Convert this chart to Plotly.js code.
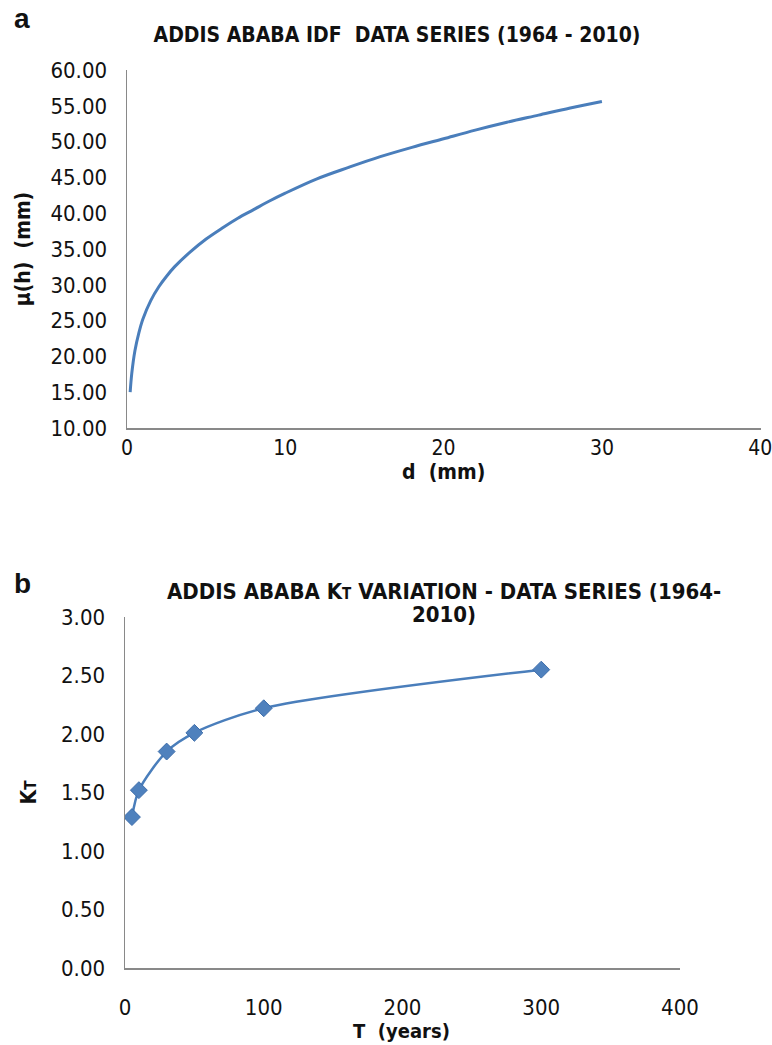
<!DOCTYPE html>
<html>
<head>
<meta charset="utf-8">
<script src="https://cdn.plot.ly/plotly-3.0.1.min.js"></script>
<style>html,body{margin:0;padding:0;background:#fff;}#chart{width:772px;height:1045px;}</style>
</head>
<body>
<div id="chart"></div>
<script>
// Panel a: IDF data series
const depth_d = [0.2, 0.3, 0.5, 0.75, 1, 1.5, 2, 2.5, 3, 4, 5, 6, 7, 8, 9, 10, 12, 14, 16, 18, 20, 22, 24, 26, 28, 30];
const mu_h = [15.0, 17.6, 20.8, 23.3, 25.2, 27.8, 29.7, 31.2, 32.5, 34.6, 36.4, 37.9, 39.3, 40.5, 41.7, 42.8, 44.8, 46.4, 47.9, 49.2, 50.4, 51.6, 52.7, 53.7, 54.7, 55.6];
// Panel b: KT variation
const return_T = [5, 10, 30, 50, 100, 300];
const kt_values = [1.29, 1.52, 1.85, 2.01, 2.22, 2.55];

const xTicksA = [0, 10, 20, 30, 40];
const yTicksA = [10, 15, 20, 25, 30, 35, 40, 45, 50, 55, 60];
const xTicksB = [0, 100, 200, 300, 400];
const yTicksB = [0, 0.5, 1, 1.5, 2, 2.5, 3];

const FONT = "'Liberation Sans Narrow', 'Arial Narrow', 'DejaVu Sans Condensed', Lato, sans-serif";
const AX = '#898989';
const BLUE = '#4A7EBB';

const traces = [
  {x: depth_d, y: mu_h, xaxis: 'x', yaxis: 'y', type: 'scatter', mode: 'lines',
   line: {color: BLUE, width: 3, shape: 'spline', smoothing: 1}, hoverinfo: 'x+y'},
  {x: return_T, y: kt_values, xaxis: 'x2', yaxis: 'y2', type: 'scatter', mode: 'lines+markers',
   line: {color: BLUE, width: 2.5, shape: 'spline', smoothing: 0.8},
   marker: {symbol: 'diamond', size: 13, color: '#4F81BD', line: {color: '#3D6DAA', width: 1}}}
];

function axisCommon(extra) {
  return Object.assign({
    showline: true, linecolor: AX, linewidth: 1.5, showgrid: false, zeroline: false,
    ticks: '', tickfont: {family: FONT, size: 22, color: '#111'}, tickmode: 'array', fixedrange: true,
    ticklabeloverflow: 'allow'
  }, extra);
}

const layout = {
  width: 772, height: 1045,
  margin: {l: 0, r: 0, t: 0, b: 0},
  paper_bgcolor: '#fff', plot_bgcolor: '#fff',
  showlegend: false,
  title: {text: 'ADDIS ABABA IDF  DATA SERIES (1964 - 2010)', font: {family: FONT, size: 21, color: '#111', weight: 'bold'},
          x: 397/772, xanchor: 'center', y: 1 - 35/1045, yanchor: 'middle'},
  xaxis: axisCommon({domain: [127/772, 761/772], range: [0, 40.05], tickvals: xTicksA, ticktext: xTicksA.map(String),
    anchor: 'y', ticklabelstandoff: 0, tickfont: {family: FONT, size: 21, color: '#111'}}),
  yaxis: axisCommon({domain: [1 - 428/1045, 1 - 70/1045], range: [10, 60], tickvals: yTicksA, ticktext: yTicksA.map(v => v.toFixed(2)),
    anchor: 'x', ticklabelstandoff: 14,
    title: {text: '<b>μ(h)  (mm)</b>', font: {family: FONT, size: 21, color: '#111'}, standoff: 14}}),
  xaxis2: axisCommon({domain: [125/772, 680/772], range: [0, 400], tickvals: xTicksB, ticktext: xTicksB.map(String),
    anchor: 'y2', ticklabelstandoff: 19}),
  yaxis2: axisCommon({domain: [1 - 968/1045, 1 - 617/1045], range: [0, 3], tickvals: yTicksB, ticktext: yTicksB.map(v => v.toFixed(2)),
    anchor: 'x2', ticklabelstandoff: 14,
    title: {text: '<b>K<span style="font-size:15px">T</span></b>', font: {family: FONT, size: 21, color: '#111'}, standoff: 18}}),
  annotations: [
    {text: '<b>a</b>', xref: 'paper', yref: 'paper', x: 12/772, y: 1 - 18/1045, xanchor: 'left', yanchor: 'middle',
     showarrow: false, font: {family: 'Liberation Sans, Arial, sans-serif', size: 28, color: '#111'}},
    {text: '<b>b</b>', xref: 'paper', yref: 'paper', x: 12/772, y: 1 - 583/1045, xanchor: 'left', yanchor: 'middle',
     showarrow: false, font: {family: 'Liberation Sans, Arial, sans-serif', size: 28, color: '#111'}},
    {text: '<b>d  (mm)</b>', xref: 'paper', yref: 'paper', x: 443/772, y: 1 - 472/1045, xanchor: 'center', yanchor: 'middle',
     showarrow: false, font: {family: FONT, size: 21, color: '#111'}},
    {text: '<b>T  (years)</b>', xref: 'paper', yref: 'paper', x: 402/772, y: 1 - 1031/1045, xanchor: 'center', yanchor: 'middle',
     showarrow: false, font: {family: FONT, size: 20, color: '#111'}},
    {text: '<b>ADDIS ABABA K<span style="font-size:15px">T</span> VARIATION - DATA SERIES (1964-</b>', xref: 'paper', yref: 'paper',
     x: 444/772, y: 1 - 591/1045, xanchor: 'center', yanchor: 'middle', showarrow: false,
     font: {family: FONT, size: 22, color: '#111'}},
    {text: '<b>2010)</b>', xref: 'paper', yref: 'paper',
     x: 444/772, y: 1 - 614/1045, xanchor: 'center', yanchor: 'middle', showarrow: false,
     font: {family: FONT, size: 22, color: '#111'}}
  ]
};

Plotly.newPlot('chart', traces, layout, {staticPlot: true, displayModeBar: false});
</script>
</body>
</html>
